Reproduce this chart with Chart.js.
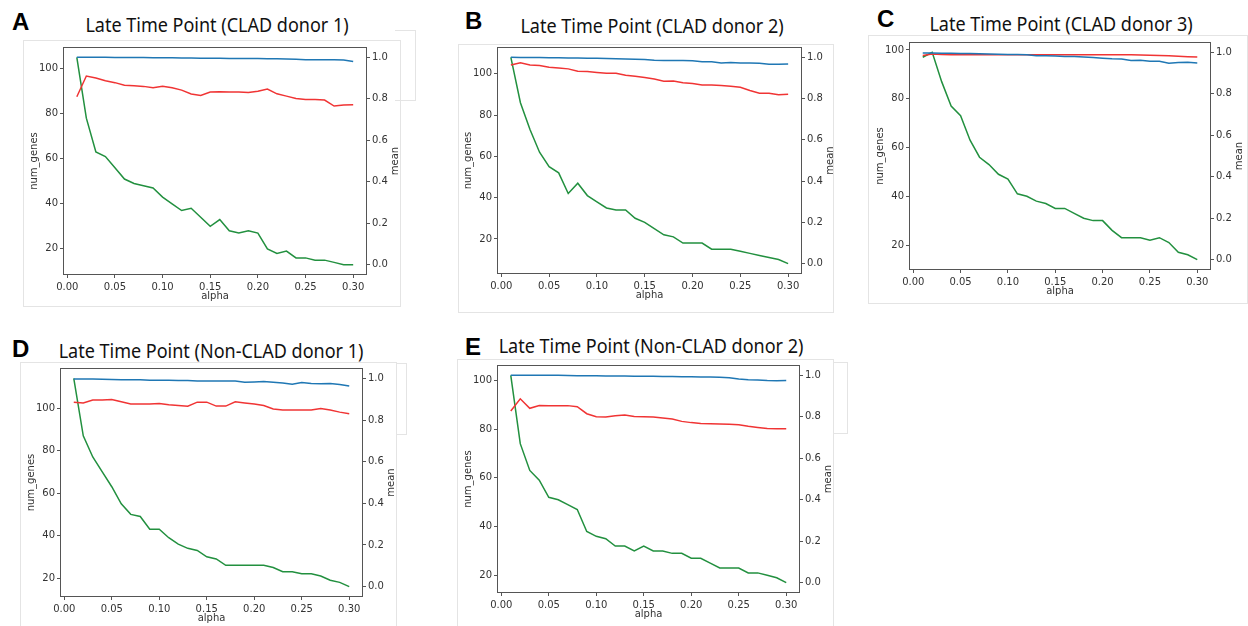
<!DOCTYPE html>
<html>
<head>
<meta charset="utf-8">
<script src="https://cdn.jsdelivr.net/npm/chart.js@4.4.1/dist/chart.umd.min.js"></script>
<style>
  body { margin: 0; background: #fff; width: 1248px; height: 626px; position: relative; overflow: hidden; }
  .frame { position: absolute; border: 1px solid #e4e4e4; box-sizing: border-box; }
  .letter { position: absolute; font: bold 24px "Liberation Sans", Arial, sans-serif; line-height: 1; color: #000; }
  .title { position: absolute; font: 20px "Noto Sans", sans-serif; line-height: 1; white-space: nowrap; transform: translateX(-50%) scaleX(0.9); color: #111; }
  canvas { position: absolute; }
</style>
</head>
<body>

<div class="frame" style="left:23px;top:40px;width:378px;height:267px"></div>
<div class="frame" style="left:395px;top:30px;width:21px;height:71px;border-left:none"></div>
<div class="frame" style="left:458px;top:44px;width:376px;height:269px"></div>
<div class="frame" style="left:868px;top:35px;width:380px;height:269px"></div>
<div class="frame" style="left:20px;top:362px;width:377px;height:280px"></div>
<div class="frame" style="left:396px;top:363px;width:11px;height:72px;border-left:none"></div>
<div class="frame" style="left:457px;top:359px;width:377px;height:280px"></div>
<div class="frame" style="left:833px;top:362px;width:15px;height:72px;border-left:none"></div>

<div class="letter" style="left:12px;top:10px">A</div>
<div class="letter" style="left:465px;top:9px">B</div>
<div class="letter" style="left:877px;top:7px">C</div>
<div class="letter" style="left:12px;top:337px">D</div>
<div class="letter" style="left:465px;top:335px">E</div>

<div class="title" style="left:217px;top:15px">Late Time Point (CLAD donor 1)</div>
<div class="title" style="left:652px;top:16px">Late Time Point (CLAD donor 2)</div>
<div class="title" style="left:1061px;top:14px">Late Time Point (CLAD donor 3)</div>
<div class="title" style="left:211px;top:341px">Late Time Point (Non-CLAD donor 1)</div>
<div class="title" style="left:651px;top:336px">Late Time Point (Non-CLAD donor 2)</div>

<canvas id="chartA"></canvas>
<canvas id="chartB"></canvas>
<canvas id="chartC"></canvas>
<canvas id="chartD"></canvas>
<canvas id="chartE"></canvas>

<script>
// alpha values (x) shared by all panels
const alpha = [0.01, 0.02, 0.03, 0.04, 0.05, 0.06, 0.07, 0.08, 0.09, 0.10,
               0.11, 0.12, 0.13, 0.14, 0.15, 0.16, 0.17, 0.18, 0.19, 0.20,
               0.21, 0.22, 0.23, 0.24, 0.25, 0.26, 0.27, 0.28, 0.29, 0.30];

const xTicks = [0, 0.05, 0.10, 0.15, 0.20, 0.25, 0.30];
const genesTicks = [20, 40, 60, 80, 100];
const meanTicks = [0, 0.2, 0.4, 0.6, 0.8, 1.0];

// A - CLAD donor 1
const genesA = [105, 78, 63, 61, 56, 51, 49, 48, 47, 43, 40, 37, 38, 34, 30, 33, 28, 27, 28, 27, 20, 18, 19, 16, 16, 15, 15, 14, 13, 13];
const redA = [0.81, 0.91, 0.90, 0.887, 0.878, 0.865, 0.863, 0.86, 0.853, 0.86, 0.853, 0.842, 0.823, 0.816, 0.833, 0.834, 0.833, 0.833, 0.83, 0.837, 0.847, 0.824, 0.813, 0.802, 0.797, 0.797, 0.794, 0.765, 0.77, 0.771];
const blueA = [1.0, 1.0, 1.0, 1.0, 0.999, 0.999, 0.999, 0.999, 0.998, 0.998, 0.998, 0.997, 0.997, 0.996, 0.996, 0.996, 0.995, 0.994, 0.994, 0.994, 0.993, 0.993, 0.992, 0.991, 0.989, 0.989, 0.988, 0.988, 0.987, 0.98];

// B - CLAD donor 2
const genesB = [108, 86, 73, 62, 55, 52, 42, 47, 41, 38, 35, 34, 34, 30, 28, 25, 22, 21, 18, 18, 18, 15, 15, 15, 14, 13, 12, 11, 10, 8];
const redB = [0.963, 0.973, 0.963, 0.96, 0.952, 0.948, 0.944, 0.932, 0.931, 0.927, 0.923, 0.923, 0.913, 0.908, 0.902, 0.895, 0.884, 0.885, 0.877, 0.873, 0.866, 0.866, 0.863, 0.86, 0.855, 0.839, 0.826, 0.826, 0.819, 0.821];
const blueB = [1.0, 0.999, 0.999, 0.999, 0.998, 0.998, 0.997, 0.997, 0.996, 0.995, 0.994, 0.993, 0.992, 0.991, 0.99, 0.986, 0.985, 0.984, 0.984, 0.983, 0.979, 0.978, 0.973, 0.975, 0.973, 0.972, 0.971, 0.966, 0.966, 0.968];

// C - CLAD donor 3
const genesC = [97, 99, 87, 77, 73, 63, 56, 53, 49, 47, 41, 40, 38, 37, 35, 35, 33, 31, 30, 30, 26, 23, 23, 23, 22, 23, 21, 17, 16, 14];
const redC = [0.985, 0.992, 0.99, 0.988, 0.988, 0.988, 0.988, 0.988, 0.988, 0.988, 0.988, 0.988, 0.988, 0.988, 0.988, 0.988, 0.988, 0.988, 0.988, 0.988, 0.988, 0.988, 0.988, 0.987, 0.986, 0.985, 0.984, 0.981, 0.979, 0.978];
const blueC = [0.997, 0.997, 0.996, 0.996, 0.995, 0.994, 0.993, 0.992, 0.991, 0.99, 0.99, 0.988, 0.984, 0.984, 0.983, 0.98, 0.98, 0.978, 0.975, 0.972, 0.969, 0.968, 0.961, 0.962, 0.957, 0.957, 0.948, 0.951, 0.952, 0.949];

// D - Non-CLAD donor 1
const genesD = [114, 87, 77, 70, 63, 55, 50, 49, 43, 43, 39, 36, 34, 33, 30, 29, 26, 26, 26, 26, 26, 25, 23, 23, 22, 22, 21, 19, 18, 16];
const redD = [0.886, 0.882, 0.896, 0.896, 0.899, 0.888, 0.877, 0.877, 0.877, 0.88, 0.874, 0.87, 0.866, 0.886, 0.886, 0.867, 0.867, 0.888, 0.882, 0.877, 0.87, 0.853, 0.848, 0.848, 0.848, 0.848, 0.856, 0.848, 0.838, 0.83];
const blueD = [0.997, 0.997, 0.997, 0.996, 0.995, 0.994, 0.993, 0.993, 0.991, 0.991, 0.991, 0.99, 0.99, 0.988, 0.988, 0.987, 0.987, 0.988, 0.982, 0.983, 0.985, 0.981, 0.978, 0.972, 0.98, 0.975, 0.974, 0.975, 0.971, 0.963];

// E - Non-CLAD donor 2
const genesE = [102, 74, 63, 59, 52, 51, 49, 47, 38, 36, 35, 32, 32, 30, 32, 30, 30, 29, 29, 27, 27, 25, 23, 23, 23, 21, 21, 20, 19, 17];
const redE = [0.828, 0.887, 0.841, 0.855, 0.854, 0.854, 0.854, 0.849, 0.815, 0.8, 0.799, 0.805, 0.809, 0.802, 0.8, 0.799, 0.794, 0.789, 0.778, 0.772, 0.768, 0.767, 0.765, 0.764, 0.762, 0.754, 0.749, 0.744, 0.743, 0.743];
const blueE = [1.0, 1.0, 1.0, 1.0, 1.0, 1.0, 0.999, 0.998, 0.998, 0.998, 0.997, 0.997, 0.997, 0.996, 0.996, 0.996, 0.995, 0.995, 0.993, 0.993, 0.992, 0.992, 0.991, 0.989, 0.982, 0.979, 0.978, 0.975, 0.974, 0.975];

const GREEN = "#22903f";
const RED = "#f03434";
const BLUE = "#1f77b4";
const TICK_COLOR = "#333";
const AXIS_COLOR = "#555";

// left / right / bottom reserved space around the plot box
const PAD_L = 50, PAD_R = 45, PAD_T = 8, PAD_B = 36;

// box around the plot + axis titles (matplotlib style)
const frameAndTitles = {
  id: "frameAndTitles",
  afterDraw(chart) {
    const ctx = chart.ctx;
    const a = chart.chartArea;
    ctx.save();
    ctx.strokeStyle = AXIS_COLOR;
    ctx.lineWidth = 1;
    ctx.strokeRect(a.left + 0.5, a.top + 0.5, a.right - a.left - 1, a.bottom - a.top - 1);

    ctx.fillStyle = TICK_COLOR;
    ctx.font = "10px 'DejaVu Sans'";
    ctx.textAlign = "center";
    ctx.textBaseline = "middle";
    const midY = (a.top + a.bottom) / 2;
    ctx.fillText("alpha", (a.left + a.right) / 2, a.bottom + 21);

    ctx.save();
    ctx.translate(a.left - 29, midY);
    ctx.rotate(-Math.PI / 2);
    ctx.fillText("num_genes", 0, 0);
    ctx.restore();

    ctx.save();
    ctx.translate(a.right + 28, midY);
    ctx.rotate(-Math.PI / 2);
    ctx.fillText("mean", 0, 0);
    ctx.restore();
    ctx.restore();
  }
};

function toPoints(values) {
  return alpha.map((x, i) => ({ x: x, y: values[i] }));
}

function tickStyle(fmt) {
  return {
    color: TICK_COLOR,
    font: { family: "DejaVu Sans", size: 10 },
    autoSkip: false,
    maxRotation: 0,
    padding: 2,
    callback: fmt
  };
}

function makeChart(id, genes, red, blue, box) {
  const canvas = document.getElementById(id);
  const w = box.right - box.left;
  const h = box.bottom - box.top;
  canvas.width = w + PAD_L + PAD_R;
  canvas.height = h + PAD_T + PAD_B;
  canvas.style.left = (box.left - PAD_L) + "px";
  canvas.style.top = (box.top - PAD_T) + "px";

  const gMin = Math.min(...genes);
  const gMax = Math.max(...genes);
  const gPad = (gMax - gMin) * 0.05;

  new Chart(canvas, {
    type: "line",
    data: {
      datasets: [
        { label: "mean_blue", data: toPoints(blue), yAxisID: "y1", borderColor: BLUE },
        { label: "mean_red", data: toPoints(red), yAxisID: "y1", borderColor: RED },
        { label: "num_genes", data: toPoints(genes), yAxisID: "y", borderColor: GREEN }
      ]
    },
    options: {
      responsive: false,
      animation: false,
      layout: { padding: { top: PAD_T, left: 0, right: 0, bottom: 0 } },
      elements: {
        point: { radius: 0 },
        line: { borderWidth: 1.5, tension: 0, fill: false }
      },
      plugins: {
        legend: { display: false },
        tooltip: { enabled: false }
      },
      scales: {
        x: {
          type: "linear",
          min: 0.01 - 0.0145,
          max: 0.30 + 0.0145,
          afterFit: (s) => { s.height = PAD_B; },
          afterBuildTicks: (s) => { s.ticks = xTicks.map(v => ({ value: v })); },
          ticks: Object.assign(tickStyle(v => v.toFixed(2)), { padding: 3 }),
          grid: { drawOnChartArea: false, tickLength: 3, color: AXIS_COLOR },
          border: { display: false }
        },
        y: {
          position: "left",
          min: gMin - gPad,
          max: gMax + gPad,
          afterFit: (s) => { s.width = PAD_L; },
          afterBuildTicks: (s) => { s.ticks = genesTicks.map(v => ({ value: v })); },
          ticks: tickStyle(v => String(v)),
          grid: { drawOnChartArea: false, tickLength: 3, color: AXIS_COLOR },
          border: { display: false }
        },
        y1: {
          position: "right",
          min: -0.05,
          max: 1.05,
          afterFit: (s) => { s.width = PAD_R; },
          afterBuildTicks: (s) => { s.ticks = meanTicks.map(v => ({ value: v })); },
          ticks: tickStyle(v => v.toFixed(1)),
          grid: { drawOnChartArea: false, tickLength: 3, color: AXIS_COLOR },
          border: { display: false }
        }
      }
    },
    plugins: [frameAndTitles]
  });
}

makeChart("chartA", genesA, redA, blueA, { left: 63, top: 47, right: 367, bottom: 275 });
makeChart("chartB", genesB, redB, blueB, { left: 497, top: 47, right: 802, bottom: 274 });
makeChart("chartC", genesC, redC, blueC, { left: 909, top: 42, right: 1211, bottom: 270 });
makeChart("chartD", genesD, redD, blueD, { left: 60, top: 368, right: 363, bottom: 597 });
makeChart("chartE", genesE, redE, blueE, { left: 497, top: 365, right: 800, bottom: 593 });
</script>
</body>
</html>
